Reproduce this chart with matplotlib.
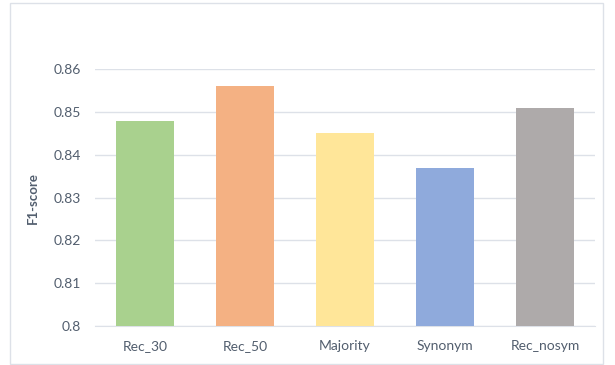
import matplotlib
matplotlib.use("Agg")
import matplotlib.pyplot as plt
from matplotlib.patches import Rectangle

categories = ["Rec_30", "Rec_50", "Majority", "Synonym", "Rec_nosym"]
values = [0.848, 0.856, 0.845, 0.837, 0.851]
colors = ["#A9D18E", "#F4B183", "#FFE699", "#8FAADC", "#AEAAAA"]
yticks = [0.8, 0.81, 0.82, 0.83, 0.84, 0.85, 0.86]
ytick_labels = ["0.8", "0.81", "0.82", "0.83", "0.84", "0.85", "0.86"]

plt.rcParams['font.family'] = ['Lato', 'DejaVu Sans']
text_color = "#525E6E"
grid_color = "#DDE1E8"
W, H = 615, 365
fig = plt.figure(figsize=(W/100, H/100), dpi=100)
fig.patches.append(Rectangle((10/W, 1-364/H), (603-10)/W, (364-3)/H,
                             transform=fig.transFigure, fill=False,
                             edgecolor="#DDE1E8", linewidth=1))
ax = fig.add_axes([95/W, 1-326/H, 500/W, (326-69.3)/H])
x = range(len(categories))
ax.bar(x, [v - 0.8 for v in values], bottom=0.8, width=0.58, color=colors, zorder=3)
ax.set_xlim(-0.5, len(categories) - 0.5)
ax.set_ylim(0.8, 0.86)
ax.set_yticks(yticks)
ax.set_yticklabels(ytick_labels)
ax.set_xticks(list(x))
ax.set_xticklabels(categories)
ax.grid(axis='y', color=grid_color, linewidth=1, zorder=0)
for s in ["top", "right", "left"]:
    ax.spines[s].set_visible(False)
ax.spines["bottom"].set_color(grid_color)
ax.tick_params(axis='both', length=0, labelsize=10, colors=text_color)
ax.tick_params(axis='x', pad=10)
ax.tick_params(axis='y', pad=10)
ax.set_ylabel("F1-score", fontsize=9.5, fontweight='bold', color=text_color, labelpad=11)
fig.savefig("out.png", dpi=100)
